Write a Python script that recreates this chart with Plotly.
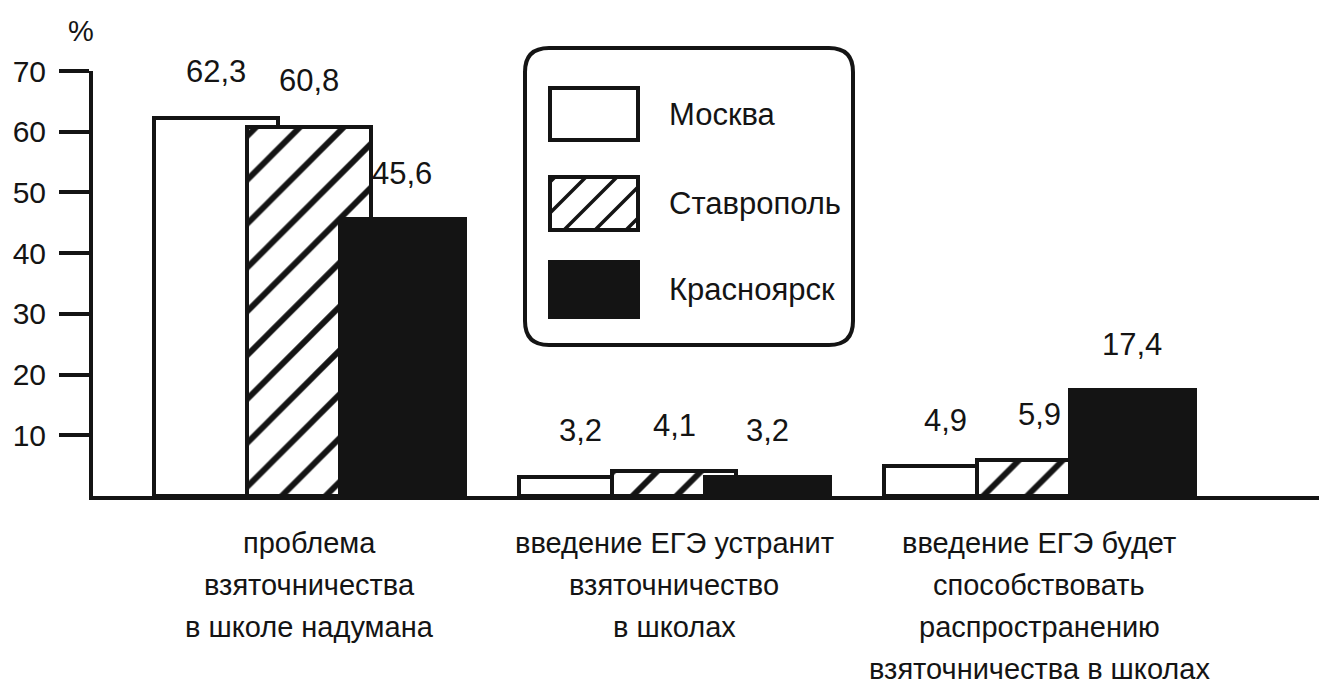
import plotly.graph_objects as go

# ---- data ---------------------------------------------------------------
categories = [
    "проблема взяточничества в школе надумана",
    "введение ЕГЭ устранит взяточничество в школах",
    "введение ЕГЭ будет способствовать распространению взяточничества в школах",
]
category_lines = [
    ["проблема", "взяточничества", "в школе надумана"],
    ["введение ЕГЭ устранит", "взяточничество", "в школах"],
    ["введение ЕГЭ будет", "способствовать", "распространению", "взяточничества в школах"],
]
series_names = ["Москва", "Ставрополь", "Красноярск"]
moscow = [62.3, 3.2, 4.9]
stavropol = [60.8, 4.1, 5.9]
krasnoyarsk = [45.6, 3.2, 17.4]
y_ticks = [10, 20, 30, 40, 50, 60, 70]

# ---- page geometry (pixels) ---------------------------------------------
W, H = 1319, 687
PLOT_LEFT, PLOT_RIGHT = 93, W
PLOT_TOP, PLOT_BOTTOM = 71, 496
X_RANGE = [-0.592, 2.767]
UNIT_PX = (PLOT_RIGHT - PLOT_LEFT) / (X_RANGE[1] - X_RANGE[0])

INK = "#141414"
FONT = "Liberation Sans, Arial, Helvetica, sans-serif"

BAR_WIDTH = 0.342
BAR_STEP = 0.255
LABEL_LIFT = 46


def px(x):
    return x / W


def py(y):
    return 1 - y / H


fig = go.Figure()

series = [moscow, stavropol, krasnoyarsk]
styles = [
    dict(color="white", pattern=dict(shape="")),
    dict(color="white", pattern=dict(shape="/", fgcolor=INK, bgcolor="white",
                                     fgopacity=1, size=31, solidity=0.19,
                                     fillmode="overlay")),
    dict(color=INK, pattern=dict(shape="")),
]

for k, (name, vals, st) in enumerate(zip(series_names, series, styles)):
    centre = (k - 1) * BAR_STEP
    fig.add_trace(go.Bar(
        name=name,
        x=categories,
        y=vals,
        width=BAR_WIDTH,
        offset=centre - BAR_WIDTH / 2,
        marker=dict(color=st["color"], pattern=st["pattern"],
                    line=dict(color=INK, width=4)),
        showlegend=False,
        hovertemplate=name + ": %{y}<extra></extra>",
    ))

annotations = []

# value labels above each bar
for k, vals in enumerate(series):
    centre = (k - 1) * BAR_STEP
    for cat, v in zip(categories, vals):
        annotations.append(dict(
            x=cat, y=v, xref="x", yref="y",
            xshift=centre * UNIT_PX, yshift=LABEL_LIFT,
            text=f"{v:.1f}".replace(".", ","),
            showarrow=False, xanchor="center", yanchor="middle",
            font=dict(family=FONT, size=31, color=INK),
        ))

# category captions below the axis
LINE_STEP = 42
FIRST_LINE_Y = 543
for cat, lines in zip(categories, category_lines):
    for i, line in enumerate(lines):
        annotations.append(dict(
            x=cat, xref="x", y=py(FIRST_LINE_Y + i * LINE_STEP), yref="paper",
            text=line, showarrow=False, xanchor="center", yanchor="middle",
            font=dict(family=FONT, size=29, color=INK),
        ))

# unit sign over the value axis
annotations.append(dict(
    x=px(81), y=py(31), xref="paper", yref="paper", text="%",
    showarrow=False, xanchor="center", yanchor="middle",
    font=dict(family=FONT, size=29, color=INK),
))

# ---- legend panel -------------------------------------------------------
shapes = []
LX0, LX1, LY0, LY1, R = 525, 853, 48, 345, 24


def rounded_box(x0, y0, x1, y1, r):
    pts = [
        f"M {px(x0 + r)},{py(y0)}",
        f"L {px(x1 - r)},{py(y0)}",
        f"Q {px(x1)},{py(y0)} {px(x1)},{py(y0 + r)}",
        f"L {px(x1)},{py(y1 - r)}",
        f"Q {px(x1)},{py(y1)} {px(x1 - r)},{py(y1)}",
        f"L {px(x0 + r)},{py(y1)}",
        f"Q {px(x0)},{py(y1)} {px(x0)},{py(y1 - r)}",
        f"L {px(x0)},{py(y0 + r)}",
        f"Q {px(x0)},{py(y0)} {px(x0 + r)},{py(y0)}",
        "Z",
    ]
    return " ".join(pts)


shapes.append(dict(type="path", xref="paper", yref="paper",
                   path=rounded_box(LX0, LY0, LX1, LY1, R),
                   line=dict(color=INK, width=4), fillcolor="white", layer="above"))

SW_X0, SW_X1 = 550, 638
swatch_rows = [(88, 140), (177, 230), (262, 317)]
label_rows = [115, 203, 290]
LABEL_X = 667

for k, ((y0, y1), ly) in enumerate(zip(swatch_rows, label_rows)):
    fill = INK if k == 2 else "white"
    shapes.append(dict(type="rect", xref="paper", yref="paper",
                       x0=px(SW_X0), x1=px(SW_X1), y0=py(y1), y1=py(y0),
                       line=dict(color=INK, width=4), fillcolor=fill, layer="above"))
    if k == 1:
        # diagonal hatching clipped to the swatch (lines x + y = c)
        step = 31
        c = SW_X0 + y0 + 5
        segs = []
        while c < SW_X1 + y1:
            lo = max(SW_X0, c - y1)
            hi = min(SW_X1, c - y0)
            if hi - lo > 1:
                segs.append(f"M {px(lo)},{py(c - lo)} L {px(hi)},{py(c - hi)}")
            c += step
        shapes.append(dict(type="path", xref="paper", yref="paper",
                           path=" ".join(segs), line=dict(color=INK, width=3.5),
                           layer="above"))
    annotations.append(dict(
        x=px(LABEL_X), y=py(ly), xref="paper", yref="paper",
        text=series_names[k], showarrow=False, xanchor="left", yanchor="middle",
        font=dict(family=FONT, size=31, color=INK),
    ))

fig.update_layout(
    width=W, height=H,
    margin=dict(l=0, r=0, t=0, b=0),
    paper_bgcolor="white", plot_bgcolor="white",
    barmode="overlay",
    bargap=0,
    showlegend=False,
    font=dict(family=FONT, color=INK),
    xaxis=dict(
        domain=[px(PLOT_LEFT), 1], type="category", range=X_RANGE,
        showline=True, linewidth=4, linecolor=INK,
        showticklabels=False, ticks="", showgrid=False, zeroline=False,
        automargin=False, fixedrange=True,
    ),
    yaxis=dict(
        domain=[py(PLOT_BOTTOM), py(PLOT_TOP)], range=[0, 70],
        tickvals=y_ticks, ticks="outside", ticklen=30, tickwidth=4, tickcolor=INK,
        showline=True, linewidth=4, linecolor=INK,
        showgrid=False, zeroline=False, ticklabelstandoff=7,
        tickfont=dict(family=FONT, size=30, color=INK),
        automargin=False, fixedrange=True,
    ),
    annotations=annotations,
    shapes=shapes,
)

fig.write_html("out.html")
